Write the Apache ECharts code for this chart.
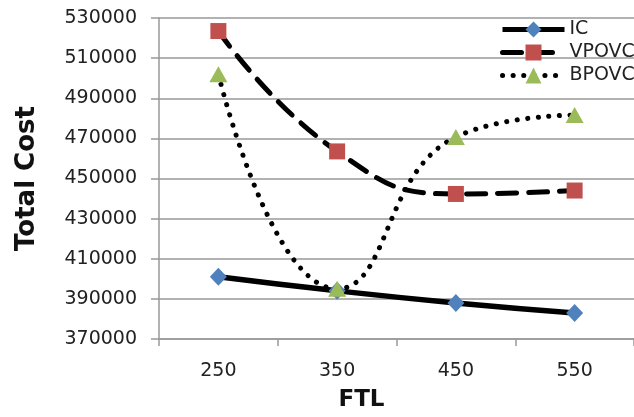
<!DOCTYPE html>
<html>
<head>
<meta charset="utf-8">
<script src="https://cdn.jsdelivr.net/npm/echarts@6/dist/echarts.min.js"></script>
<style>
  html, body { margin: 0; padding: 0; background: #fff; }
  #echart { width: 634px; height: 417px; }
</style>
</head>
<body>
<div id="echart"></div>
<script>
// 数据
var ftl = ['250', '350', '450', '550']
var icData = [401000, 394000, 388000, 383000]
var vpovcData = [523500, 463500, 442300, 444000]
var bpovcData = [502000, 395000, 470700, 481600]

var font = 'DejaVu Sans'

var myChart = echarts.init(document.getElementById('echart'))
var option = {
  animation: false,
  grid: {
    left: 159,
    top: 18,
    width: 484,
    height: 321
  },
  legend: {
    orient: 'vertical',
    left: 495,
    top: 15,
    itemWidth: 62,
    itemHeight: 20,
    itemGap: 4,
    lineStyle: { width: 5 },
    textStyle: { color: '#222', fontSize: 19, fontFamily: font },
    data: ['IC', 'VPOVC', 'BPOVC']
  },
  xAxis: {
    type: 'category',
    data: ftl,
    boundaryGap: true,
    name: 'FTL',
    nameLocation: 'middle',
    nameGap: 50,
    nameTextStyle: {
      color: '#111', fontSize: 23, fontWeight: 'bold', fontFamily: font,
      padding: [0, 70, 0, 0]
    },
    axisLine: { lineStyle: { color: '#999', width: 1.5 } },
    axisTick: { show: true, length: 7, interval: 0, lineStyle: { color: '#999', width: 1.5 } },
    axisLabel: { color: '#222', fontSize: 19, fontFamily: font, margin: 23, interval: 0 },
    splitLine: { show: false }
  },
  yAxis: {
    type: 'value',
    min: 370000,
    max: 530000,
    interval: 20000,
    name: 'Total Cost',
    nameLocation: 'middle',
    nameGap: 119,
    nameTextStyle: { color: '#111', fontSize: 26, fontWeight: 'bold', fontFamily: font },
    axisLine: { show: true, lineStyle: { color: '#999', width: 1.5 } },
    axisTick: { show: true, length: 8, lineStyle: { color: '#999', width: 1.5 } },
    axisLabel: {
      color: '#222', fontSize: 19, fontFamily: font, margin: 22,
      formatter: function (v) { return String(v) }
    },
    splitLine: { lineStyle: { color: '#999', width: 1.5 } }
  },
  series: [
    {
      name: 'IC',
      type: 'line',
      data: icData,
      smooth: true,
      symbol: 'diamond',
      symbolSize: [17, 18],
      itemStyle: { color: '#4F81BD' },
      lineStyle: { color: '#000', width: 5.5 },
      z: 3
    },
    {
      name: 'VPOVC',
      type: 'line',
      data: vpovcData,
      smooth: true,
      symbol: 'rect',
      symbolSize: 16,
      itemStyle: { color: '#C0504D' },
      lineStyle: { color: '#000', width: 5, type: [19, 12], cap: 'round' },
      z: 2
    },
    {
      name: 'BPOVC',
      type: 'line',
      data: bpovcData,
      smooth: true,
      symbol: 'triangle',
      symbolSize: [18, 16],
      itemStyle: { color: '#9BBB59' },
      lineStyle: { color: '#000', width: 5, type: [0.1, 10.5], cap: 'round' },
      z: 4
    }
  ]
}
myChart.setOption(option)
</script>
</body>
</html>
